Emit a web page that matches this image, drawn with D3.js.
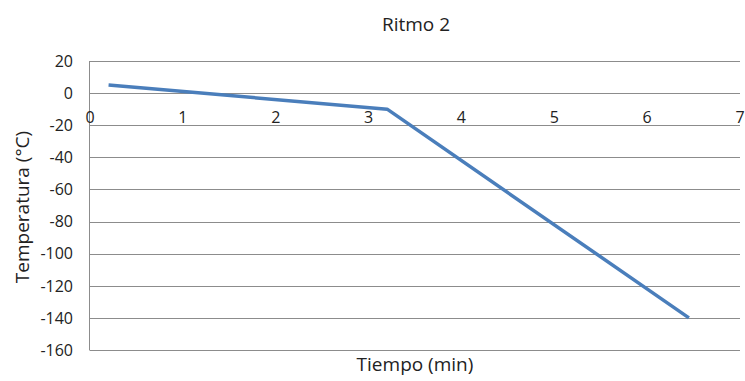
<!DOCTYPE html>
<html><head><meta charset="utf-8">
<script src="https://cdn.jsdelivr.net/npm/d3@7"></script>
<style>body{margin:0;background:#fff}svg{display:block}text{font-family:"Open Sans",sans-serif;fill:#222}</style>
</head><body>
<script>
const title = "Ritmo 2";
const xLabel = "Tiempo (min)";
const yLabel = "Temperatura (°C)";
const timeValues = [0.2, 3.2, 6.45];
const tempValues = [5, -10, -140];
const xTicks = [0, 1, 2, 3, 4, 5, 6, 7];
const yTicks = [20, 0, -20, -40, -60, -80, -100, -120, -140, -160];

const W = 745, H = 381;
const svg = d3.select("body").append("svg").attr("width", W).attr("height", H);
const x = d3.scaleLinear().domain([0, 7]).range([90, 740]);
const y = d3.scaleLinear().domain([-160, 20]).range([350, 61]);

// gridlines
svg.append("g").selectAll("line").data(yTicks).join("line")
  .attr("x1", x(0)).attr("x2", x(7))
  .attr("y1", d => Math.round(y(d)) + 0.5).attr("y2", d => Math.round(y(d)) + 0.5)
  .attr("stroke", "#8c8c8c").attr("stroke-width", 1);
// y axis line
svg.append("line").attr("x1", x(0) - 0.5).attr("x2", x(0) - 0.5)
  .attr("y1", y(20)).attr("y2", y(-160) + 0.5).attr("stroke", "#8c8c8c");

// y tick labels
svg.append("g").selectAll("text").data(yTicks).join("text")
  .attr("x", 73).attr("y", d => y(d)).attr("dy", "0.36em")
  .attr("text-anchor", "end").attr("font-size", 16).text(d => d);
// x tick labels
svg.append("g").selectAll("text").data(xTicks).join("text")
  .attr("x", d => x(d)).attr("y", 123)
  .attr("text-anchor", "middle").attr("font-size", 16).text(d => d);

// line
const line = d3.line().x((d, i) => x(timeValues[i])).y(d => y(d));
svg.append("path").datum(tempValues).attr("d", line)
  .attr("fill", "none").attr("stroke", "#4a7ebb").attr("stroke-width", 3.5)
  .attr("stroke-linejoin", "round");

svg.append("text").attr("x", 416).attr("y", 31).attr("text-anchor", "middle")
  .attr("font-size", 19).text(title);
svg.append("text").attr("x", 415).attr("y", 371).attr("text-anchor", "middle")
  .attr("font-size", 19).text(xLabel);
svg.append("text").attr("transform", "translate(29,207) rotate(-90)")
  .attr("text-anchor", "middle").attr("font-size", 19).text(yLabel);
</script>
</body></html>
